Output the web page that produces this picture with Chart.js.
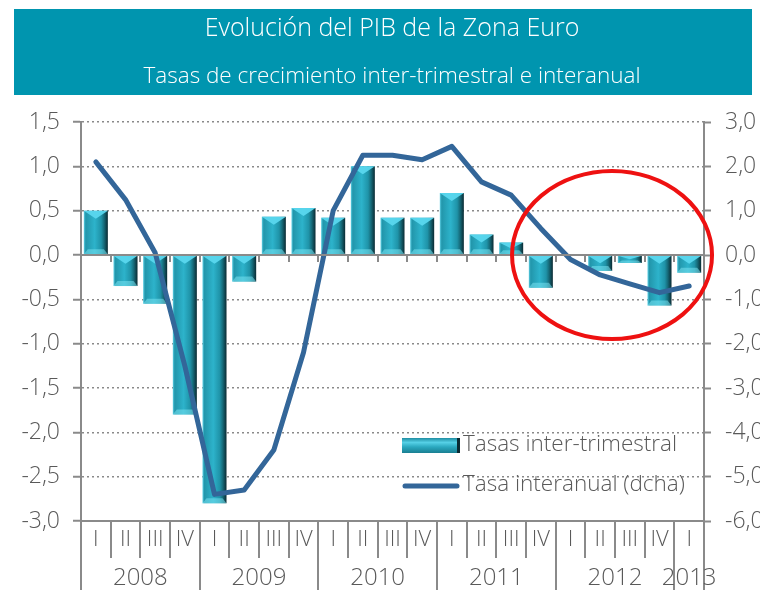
<!DOCTYPE html>
<html>
<head>
<meta charset="utf-8">
<script src="https://cdn.jsdelivr.net/npm/chart.js@4.4.1/dist/chart.umd.min.js"></script>
<style>
html,body{margin:0;padding:0;background:#fff;}
canvas{display:block;}
</style>
</head>
<body>
<canvas id="c" width="760" height="590"></canvas>
<script>
// ---- data ----
const quarters = ['I','II','III','IV','I','II','III','IV','I','II','III','IV','I','II','III','IV','I','II','III','IV','I'];
const years = ['2008','2009','2010','2011','2012','2013'];
const yearSpans = [4,4,4,4,4,1];
const interTrimestral = [0.5,-0.35,-0.55,-1.8,-2.8,-0.3,0.43,0.53,0.42,1.0,0.42,0.42,0.7,0.23,0.14,-0.37,0.0,-0.18,-0.09,-0.57,-0.2];
const interanual = [2.1,1.25,0.05,-2.5,-5.4,-5.3,-4.4,-2.2,1.0,2.25,2.25,2.15,2.45,1.65,1.35,0.6,-0.1,-0.45,-0.65,-0.85,-0.7];
const leftTicks = [1.5,1.0,0.5,0.0,-0.5,-1.0,-1.5,-2.0,-2.5,-3.0];
const rightTicks = [3,2,1,0,-1,-2,-3,-4,-5,-6];
const titleText = 'Evolución del PIB de la Zona Euro';
const subtitleText = 'Tasas de crecimiento inter-trimestral e interanual';
const seriesLabels = ['Tasas inter-trimestral','Tasa interanual (dcha)'];

const FONT = '"Open Sans", "Noto Sans", sans-serif';
const GREY = '#8a8a8a';
const TXT = '#595959';
const LINE_C = '#336699';

function fmt(v){ return v.toFixed(1).replace('.', ','); }

function barGradient(ctx2d, x0, x1){
  const g = ctx2d.createLinearGradient(x0,0,x1,0);
  g.addColorStop(0,'#5ccfe4');
  g.addColorStop(0.08,'#2296ab');
  g.addColorStop(0.45,'#2db3cb');
  g.addColorStop(0.72,'#1f93a8');
  g.addColorStop(0.84,'#166b7a');
  g.addColorStop(1,'#0a2a32');
  return g;
}

const decor = {
  id:'decor',
  beforeDraw(chart){
    const c = chart.ctx;
    c.save();
    c.fillStyle = '#0095af';
    c.fillRect(14, 9, 738, 86);
    c.fillStyle = '#ffffff';
    c.textAlign = 'center';
    c.textBaseline = 'middle';
    c.font = '300 25px ' + FONT;
    c.fillText(titleText, 392, 29);
    c.font = '300 22.5px ' + FONT;
    c.fillText(subtitleText, 392, 77);
    c.restore();
  },
  afterDatasetDraw(chart, args){
    if (args.index !== 0) return;
    const c = chart.ctx;
    const meta = chart.getDatasetMeta(0);
    c.save();
    meta.data.forEach(el => {
      const w = el.width, l = el.x - w/2, r = el.x + w/2;
      const top = Math.min(el.y, el.base), bot = Math.max(el.y, el.base);
      const h = bot - top;
      if (h < 1) return;
      const d = Math.min(8, h/2);
      c.fillStyle = 'rgba(90,215,238,0.95)';
      c.beginPath(); c.moveTo(l, top); c.lineTo(r, top); c.lineTo(el.x, top + d); c.closePath(); c.fill();
      c.fillStyle = 'rgba(120,225,240,0.55)';
      c.beginPath(); c.moveTo(l, bot); c.lineTo(r, bot); c.lineTo(r-4, bot-Math.min(5,h/3)); c.lineTo(l+4, bot-Math.min(5,h/3)); c.closePath(); c.fill();
    });
    c.restore();
  },
  afterDraw(chart){
    const c = chart.ctx;
    const a = chart.chartArea;
    const xs = chart.scales.x, yl = chart.scales.y;
    const n = quarters.length;
    const cw = (a.right - a.left) / n;
    c.save();
    const y0 = yl.getPixelForValue(0);
    c.strokeStyle = GREY; c.lineWidth = 2;
    c.beginPath(); c.moveTo(a.left, y0); c.lineTo(a.right, y0); c.stroke();
    for (let i = 1; i < n; i++){
      const x = Math.round(a.left + i*cw);
      c.beginPath(); c.moveTo(x, y0); c.lineTo(x, y0+7); c.stroke();
    }
    const yearBounds = [0];
    let acc = 0; yearSpans.forEach(s => { acc += s; yearBounds.push(acc); });
    for (let i = 0; i <= n; i++){
      const x = Math.round(a.left + i*cw);
      const full = yearBounds.includes(i);
      c.beginPath(); c.moveTo(x, a.bottom); c.lineTo(x, full ? 590 : 558); c.stroke();
    }
    c.fillStyle = TXT; c.font = '300 24px ' + FONT; c.textAlign = 'center'; c.textBaseline = 'middle';
    years.forEach((yr, k) => {
      const i0 = yearBounds[k], i1 = yearBounds[k+1];
      const x = (xs.getPixelForValue(i0) + xs.getPixelForValue(i1-1))/2;
      c.fillText(yr, x, 578);
    });
    const lx = 402, lw = 58;
    const g = c.createLinearGradient(0,438,0,453);
    g.addColorStop(0,'#1f8da2'); g.addColorStop(0.3,'#55d0e6'); g.addColorStop(0.6,'#2aa8bf'); g.addColorStop(1,'#1a7f92');
    c.fillStyle = g; c.fillRect(lx, 438, lw, 15);
    c.fillStyle = '#0a2a32'; c.fillRect(lx+lw-3, 438, 3, 15);
    c.strokeStyle = LINE_C; c.lineWidth = 5; c.lineCap = 'round';
    c.beginPath(); c.moveTo(lx+3, 486); c.lineTo(lx+lw-3, 486); c.stroke();
    c.fillStyle = TXT; c.textAlign = 'left'; c.font = '300 22.5px ' + FONT;
    c.fillText(seriesLabels[0], 463, 445);
    c.fillText(seriesLabels[1], 463, 485);
    const ex = xs.getPixelForValue(17.4), ey = yl.getPixelForValue(0);
    c.strokeStyle = '#ee1111'; c.lineWidth = 4;
    c.beginPath(); c.ellipse(ex, ey, 100, 84, 0, 0, Math.PI*2); c.stroke();
    c.restore();
  }
};

new Chart(document.getElementById('c'), {
  data: {
    labels: quarters,
    datasets: [
      {
        type:'bar', label: seriesLabels[0], data: interTrimestral, yAxisID:'y', order: 2,
        barPercentage: 0.81, categoryPercentage: 1.0,
        backgroundColor: (ctx) => {
          const ch = ctx.chart; const xs = ch.scales && ch.scales.x;
          if (!xs || !ch.chartArea) return '#2aa6bd';
          const x = xs.getPixelForValue(ctx.dataIndex);
          const w = (ch.chartArea.right - ch.chartArea.left)/quarters.length*0.81;
          return barGradient(ch.ctx, x - w/2, x + w/2);
        },
        borderWidth: 0
      },
      {
        type:'line', label: seriesLabels[1], data: interanual, yAxisID:'y2', order: 1,
        borderColor: LINE_C, borderWidth: 5, pointRadius: 0, tension: 0, fill: false,
        borderCapStyle:'round', borderJoinStyle:'round'
      }
    ]
  },
  options: {
    responsive:false, devicePixelRatio:1, animation:false,
    layout:{ padding:{ top:122, left:0, right:0, bottom:0 } },
    plugins:{ legend:{display:false}, title:{display:false}, tooltip:{enabled:false} },
    scales:{
      x:{
        type:'category', offset:true,
        grid:{ display:false, drawTicks:false },
        border:{ display:true, color:GREY, width:2 },
        ticks:{ color:TXT, font:{ family:FONT, size:22, weight:'300' }, padding:6, maxRotation:0, autoSkip:false },
        afterFit(s){ s.height = 69; }
      },
      y:{
        position:'left', min:-3, max:1.5,
        afterBuildTicks(s){ s.ticks = leftTicks.map(v => ({value:v})); },
        ticks:{ color:TXT, font:{ family:FONT, size:23, weight:'300' }, padding:13, callback:(v)=>fmt(v) },
        grid:{ color:GREY, lineWidth:1.5, tickLength:8, tickBorderDash:[], tickColor:GREY, tickWidth:2 },
        border:{ display:true, color:GREY, width:2, dash:[2,3] },
        afterFit(s){ s.width = 81; }
      },
      y2:{
        position:'right', min:-6, max:3,
        afterBuildTicks(s){ s.ticks = rightTicks.map(v => ({value:v})); },
        ticks:{ color:TXT, font:{ family:FONT, size:23, weight:'300' }, padding:14, callback:(v)=>fmt(v) },
        grid:{ drawOnChartArea:false, tickLength:7, tickColor:GREY, tickWidth:2 },
        border:{ display:true, color:GREY, width:2 },
        afterFit(s){ s.width = 56; }
      }
    }
  },
  plugins:[decor]
});
</script>
</body>
</html>
